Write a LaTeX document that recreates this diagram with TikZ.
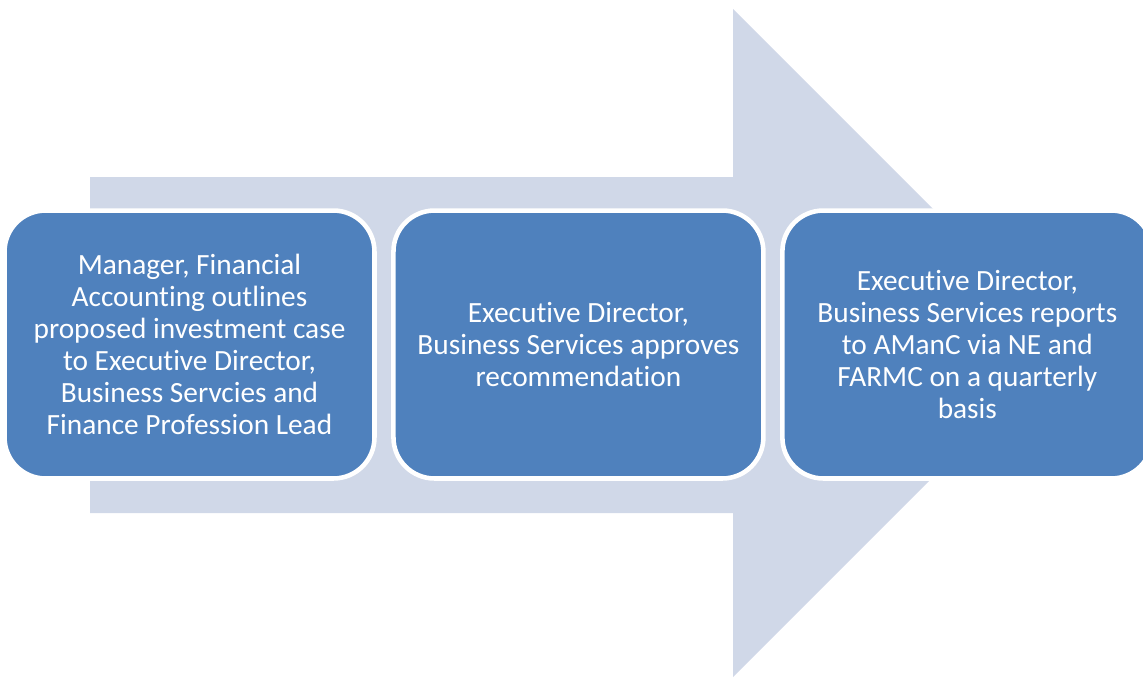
\documentclass[tikz,border=0pt]{standalone}
\usepackage{fontspec}
\setmainfont{Carlito}[Ligatures=NoCommon]
\usetikzlibrary{positioning}
\definecolor{stepblue}{HTML}{4F81BD}
\definecolor{arrowpale}{HTML}{D0D8E8}
\tikzset{
  stepbox/.style={
    draw=white,
    fill=stepblue,
    text=white,
    line width=2.6pt,
    rounded corners=0.82cm,
    align=center,
    minimum width=7.4cm,
    minimum height=5.36cm,
    inner sep=0pt,
    outer sep=0pt,
    font=\fontsize{16.7}{18.2}\selectfont
  },
  bigarrow/.style={fill=arrowpale}
}

\begin{document}
\begin{tikzpicture}[x=0.02cm, y=-0.02cm, node distance=0.38cm]
  \useasboundingbox (0,0) rectangle (1143,677);
  % wide block arrow behind the steps
  \fill[bigarrow] (90,177) -- (733,177) -- (733,9) -- (1067,343)
    -- (733,677) -- (733,513) -- (90,513) -- cycle;
  \begin{scope}
    \clip (0,0) rectangle (1143,677);
    \node[stepbox] (outline) at (189.5,344.5) {Manager, Financial\\Accounting outlines\\proposed investment case\\to Executive Director,\\Business Servcies and\\Finance Profession Lead};
    \node[stepbox, right=of outline] (approve) {Executive Director,\\Business Services approves\\recommendation};
    \node[stepbox, right=of approve] (report) {Executive Director,\\Business Services reports\\to AManC via NE and\\FARMC on a quarterly\\basis};
  \end{scope}
\end{tikzpicture}
\end{document}
